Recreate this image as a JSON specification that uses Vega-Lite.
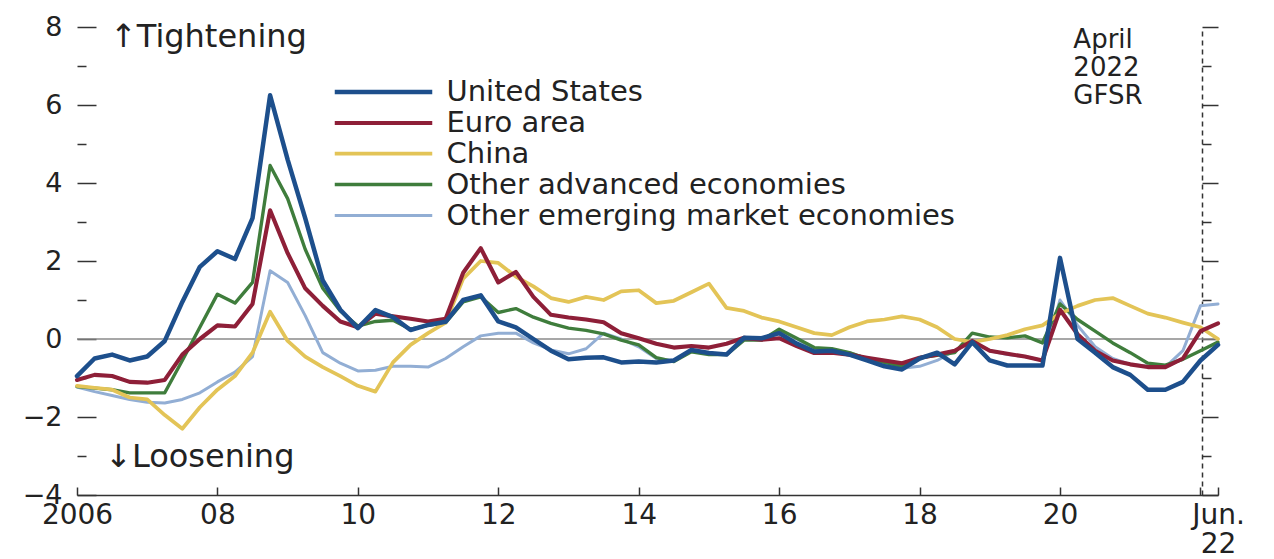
{
  "$schema": "https://vega.github.io/schema/vega-lite/v6.json",
  "width": 1141,
  "height": 468,
  "autosize": "none",
  "padding": {"left": 77, "top": 27, "right": 56, "bottom": 64},
  "background": "white",
  "config": {"view": {"stroke": null}, "font": "DejaVu Sans"},
  "resolve": {"axis": {"y": "independent"}},
  "layer": [
    {
      "data": {"values": [{"v": 0}]},
      "mark": {"type": "rule", "color": "#8a8a8a", "strokeWidth": 1.5},
      "encoding": {
        "y": {
          "field": "v", "type": "quantitative",
          "scale": {"domain": [-4, 8], "nice": false, "zero": false},
          "axis": {
            "orient": "right", "offset": -16, "values": [-4,-3,-2,-1,0,1,2,3,4,5,6,7,8],
            "labels": false, "title": null, "grid": false,
            "domain": true, "domainDash": [5, 4], "domainColor": "#333", "domainWidth": 1.5,
            "tickColor": "#333", "tickWidth": 1.5,
            "tickSize": {"condition": {"test": "datum.value % 2 !== 0", "value": 9}, "value": 16}
          }
        }
      }
    },
    {
      "data": {"values": [
        {"t": 2006.0, "United States": -0.95, "Euro area": -1.05, "China": -1.2, "Other advanced economies": -1.22, "Other emerging market economies": -1.23},
        {"t": 2006.25, "United States": -0.5, "Euro area": -0.92, "China": -1.25, "Other advanced economies": -1.26, "Other emerging market economies": -1.35},
        {"t": 2006.5, "United States": -0.4, "Euro area": -0.95, "China": -1.3, "Other advanced economies": -1.3, "Other emerging market economies": -1.45},
        {"t": 2006.75, "United States": -0.55, "Euro area": -1.1, "China": -1.5, "Other advanced economies": -1.38, "Other emerging market economies": -1.55},
        {"t": 2007.0, "United States": -0.45, "Euro area": -1.12, "China": -1.55, "Other advanced economies": -1.38, "Other emerging market economies": -1.62},
        {"t": 2007.25, "United States": -0.05, "Euro area": -1.05, "China": -1.95, "Other advanced economies": -1.38, "Other emerging market economies": -1.64},
        {"t": 2007.5, "United States": 0.95, "Euro area": -0.4, "China": -2.3, "Other advanced economies": -0.55, "Other emerging market economies": -1.55},
        {"t": 2007.75, "United States": 1.85, "Euro area": 0.0, "China": -1.75, "Other advanced economies": 0.3, "Other emerging market economies": -1.38},
        {"t": 2008.0, "United States": 2.25, "Euro area": 0.35, "China": -1.3, "Other advanced economies": 1.15, "Other emerging market economies": -1.1},
        {"t": 2008.25, "United States": 2.05, "Euro area": 0.32, "China": -0.95, "Other advanced economies": 0.92, "Other emerging market economies": -0.85},
        {"t": 2008.5, "United States": 3.1, "Euro area": 0.9, "China": -0.35, "Other advanced economies": 1.45, "Other emerging market economies": -0.45},
        {"t": 2008.75, "United States": 6.25, "Euro area": 3.3, "China": 0.7, "Other advanced economies": 4.45, "Other emerging market economies": 1.75},
        {"t": 2009.0, "United States": 4.6, "Euro area": 2.2, "China": -0.05, "Other advanced economies": 3.6, "Other emerging market economies": 1.45},
        {"t": 2009.25, "United States": 3.1, "Euro area": 1.3, "China": -0.45, "Other advanced economies": 2.3, "Other emerging market economies": 0.6},
        {"t": 2009.5, "United States": 1.5, "Euro area": 0.85, "China": -0.72, "Other advanced economies": 1.3, "Other emerging market economies": -0.35},
        {"t": 2009.75, "United States": 0.75, "Euro area": 0.45, "China": -0.95, "Other advanced economies": 0.72, "Other emerging market economies": -0.62},
        {"t": 2010.0, "United States": 0.28, "Euro area": 0.3, "China": -1.2, "Other advanced economies": 0.33, "Other emerging market economies": -0.82},
        {"t": 2010.25, "United States": 0.74, "Euro area": 0.65, "China": -1.35, "Other advanced economies": 0.45, "Other emerging market economies": -0.8},
        {"t": 2010.5, "United States": 0.56, "Euro area": 0.58, "China": -0.6, "Other advanced economies": 0.48, "Other emerging market economies": -0.7},
        {"t": 2010.75, "United States": 0.23, "Euro area": 0.52, "China": -0.15, "Other advanced economies": 0.25, "Other emerging market economies": -0.7},
        {"t": 2011.0, "United States": 0.36, "Euro area": 0.45, "China": 0.15, "Other advanced economies": 0.35, "Other emerging market economies": -0.72},
        {"t": 2011.25, "United States": 0.44, "Euro area": 0.52, "China": 0.42, "Other advanced economies": 0.42, "Other emerging market economies": -0.5},
        {"t": 2011.5, "United States": 1.0, "Euro area": 1.7, "China": 1.55, "Other advanced economies": 0.95, "Other emerging market economies": -0.2},
        {"t": 2011.75, "United States": 1.12, "Euro area": 2.33, "China": 2.0, "Other advanced economies": 1.08, "Other emerging market economies": 0.08},
        {"t": 2012.0, "United States": 0.45, "Euro area": 1.45, "China": 1.95, "Other advanced economies": 0.68, "Other emerging market economies": 0.15},
        {"t": 2012.25, "United States": 0.3, "Euro area": 1.72, "China": 1.6, "Other advanced economies": 0.78, "Other emerging market economies": 0.15},
        {"t": 2012.5, "United States": 0.0, "Euro area": 1.08, "China": 1.35, "Other advanced economies": 0.56, "Other emerging market economies": -0.1},
        {"t": 2012.75, "United States": -0.3, "Euro area": 0.62, "China": 1.05, "Other advanced economies": 0.4, "Other emerging market economies": -0.28},
        {"t": 2013.0, "United States": -0.52, "Euro area": 0.55, "China": 0.95, "Other advanced economies": 0.28, "Other emerging market economies": -0.38},
        {"t": 2013.25, "United States": -0.48, "Euro area": 0.5, "China": 1.08, "Other advanced economies": 0.22, "Other emerging market economies": -0.25},
        {"t": 2013.5, "United States": -0.47, "Euro area": 0.43, "China": 1.0, "Other advanced economies": 0.13, "Other emerging market economies": 0.15},
        {"t": 2013.75, "United States": -0.6, "Euro area": 0.15, "China": 1.22, "Other advanced economies": -0.03, "Other emerging market economies": 0.0},
        {"t": 2014.0, "United States": -0.58, "Euro area": 0.02, "China": 1.25, "Other advanced economies": -0.15, "Other emerging market economies": -0.2},
        {"t": 2014.25, "United States": -0.6, "Euro area": -0.12, "China": 0.92, "Other advanced economies": -0.48, "Other emerging market economies": -0.5},
        {"t": 2014.5, "United States": -0.55, "Euro area": -0.22, "China": 0.98, "Other advanced economies": -0.58, "Other emerging market economies": -0.55},
        {"t": 2014.75, "United States": -0.28, "Euro area": -0.18, "China": 1.2, "Other advanced economies": -0.33, "Other emerging market economies": -0.3},
        {"t": 2015.0, "United States": -0.36, "Euro area": -0.22, "China": 1.42, "Other advanced economies": -0.4, "Other emerging market economies": -0.38},
        {"t": 2015.25, "United States": -0.4, "Euro area": -0.12, "China": 0.8, "Other advanced economies": -0.4, "Other emerging market economies": -0.38},
        {"t": 2015.5, "United States": 0.03, "Euro area": 0.03, "China": 0.72, "Other advanced economies": -0.03, "Other emerging market economies": 0.0},
        {"t": 2015.75, "United States": 0.02, "Euro area": -0.02, "China": 0.55, "Other advanced economies": -0.03, "Other emerging market economies": -0.02},
        {"t": 2016.0, "United States": 0.15, "Euro area": 0.02, "China": 0.45, "Other advanced economies": 0.25, "Other emerging market economies": 0.2},
        {"t": 2016.25, "United States": -0.12, "Euro area": -0.18, "China": 0.3, "Other advanced economies": 0.02, "Other emerging market economies": 0.0},
        {"t": 2016.5, "United States": -0.32, "Euro area": -0.36, "China": 0.15, "Other advanced economies": -0.22, "Other emerging market economies": -0.25},
        {"t": 2016.75, "United States": -0.3, "Euro area": -0.35, "China": 0.1, "Other advanced economies": -0.25, "Other emerging market economies": -0.28},
        {"t": 2017.0, "United States": -0.4, "Euro area": -0.4, "China": 0.3, "Other advanced economies": -0.35, "Other emerging market economies": -0.35},
        {"t": 2017.25, "United States": -0.55, "Euro area": -0.48, "China": 0.45, "Other advanced economies": -0.5, "Other emerging market economies": -0.5},
        {"t": 2017.5, "United States": -0.7, "Euro area": -0.55, "China": 0.5, "Other advanced economies": -0.6, "Other emerging market economies": -0.62},
        {"t": 2017.75, "United States": -0.78, "Euro area": -0.62, "China": 0.58, "Other advanced economies": -0.7, "Other emerging market economies": -0.75},
        {"t": 2018.0, "United States": -0.5, "Euro area": -0.48, "China": 0.5, "Other advanced economies": -0.48, "Other emerging market economies": -0.7},
        {"t": 2018.25, "United States": -0.35, "Euro area": -0.4, "China": 0.3, "Other advanced economies": -0.42, "Other emerging market economies": -0.55},
        {"t": 2018.5, "United States": -0.65, "Euro area": -0.3, "China": 0.0, "Other advanced economies": -0.35, "Other emerging market economies": -0.3},
        {"t": 2018.75, "United States": -0.08, "Euro area": -0.05, "China": -0.08, "Other advanced economies": 0.15, "Other emerging market economies": -0.05},
        {"t": 2019.0, "United States": -0.55, "Euro area": -0.3, "China": 0.0, "Other advanced economies": 0.05, "Other emerging market economies": -0.3},
        {"t": 2019.25, "United States": -0.68, "Euro area": -0.38, "China": 0.1, "Other advanced economies": 0.03, "Other emerging market economies": -0.4},
        {"t": 2019.5, "United States": -0.68, "Euro area": -0.45, "China": 0.25, "Other advanced economies": 0.08, "Other emerging market economies": -0.45},
        {"t": 2019.75, "United States": -0.68, "Euro area": -0.55, "China": 0.35, "Other advanced economies": -0.1, "Other emerging market economies": -0.55},
        {"t": 2020.0, "United States": 2.08, "Euro area": 0.75, "China": 0.65, "Other advanced economies": 0.9, "Other emerging market economies": 1.0},
        {"t": 2020.25, "United States": 0.0, "Euro area": 0.12, "China": 0.85, "Other advanced economies": 0.5, "Other emerging market economies": 0.35},
        {"t": 2020.5, "United States": -0.35, "Euro area": -0.3, "China": 1.0, "Other advanced economies": 0.2, "Other emerging market economies": -0.2},
        {"t": 2020.75, "United States": -0.72, "Euro area": -0.55, "China": 1.05, "Other advanced economies": -0.1, "Other emerging market economies": -0.5},
        {"t": 2021.0, "United States": -0.92, "Euro area": -0.65, "China": 0.85, "Other advanced economies": -0.35, "Other emerging market economies": -0.65},
        {"t": 2021.25, "United States": -1.3, "Euro area": -0.72, "China": 0.65, "Other advanced economies": -0.62, "Other emerging market economies": -0.7},
        {"t": 2021.5, "United States": -1.3, "Euro area": -0.72, "China": 0.55, "Other advanced economies": -0.67, "Other emerging market economies": -0.72},
        {"t": 2021.75, "United States": -1.1, "Euro area": -0.5, "China": 0.42, "Other advanced economies": -0.52, "Other emerging market economies": -0.3},
        {"t": 2022.0, "United States": -0.55, "Euro area": 0.2, "China": 0.3, "Other advanced economies": -0.3, "Other emerging market economies": 0.85},
        {"t": 2022.25, "United States": -0.15, "Euro area": 0.4, "China": 0.0, "Other advanced economies": -0.08, "Other emerging market economies": 0.9}
      ]},
      "transform": [
        {"fold": ["Other emerging market economies", "Other advanced economies", "China", "Euro area", "United States"], "as": ["series", "value"]}
      ],
      "mark": {"type": "line", "strokeJoin": "round", "strokeCap": "round"},
      "encoding": {
        "x": {
          "field": "t", "type": "quantitative",
          "scale": {"domain": [2006, 2022.25], "nice": false, "zero": false},
          "axis": {
            "values": [2006, 2008, 2010, 2012, 2014, 2016, 2018, 2020, 2022, 2022.25],
            "labelExpr": "datum.value == 2006 ? '2006' : (datum.value > 2022.1 ? ['Jun.', '22'] : (datum.value == 2022 ? '' : slice(toString(datum.value), 2)))",
            "labelFlush": false, "labelFontSize": 28, "labelColor": "#222", "labelLineHeight": 29,
            "labelPadding": 14, "tickSize": -8, "tickColor": "#333", "tickWidth": 1.5,
            "domainColor": "#333", "domainWidth": 1.5, "grid": false, "title": null
          }
        },
        "y": {
          "field": "value", "type": "quantitative",
          "scale": {"domain": [-4, 8], "nice": false, "zero": false},
          "axis": {
            "orient": "left", "values": [-4,-3,-2,-1,0,1,2,3,4,5,6,7,8],
            "labelExpr": "datum.value % 2 === 0 ? datum.label : ''",
            "labelFontSize": 27, "labelColor": "#222", "labelPadding": 34,
            "tickSize": {"condition": {"test": "datum.value % 2 !== 0", "value": -9}, "value": -19},
            "tickColor": "#333", "tickWidth": 1.5,
            "domain": false, "grid": false, "title": null
          }
        },
        "color": {
          "field": "series", "type": "nominal",
          "scale": {
            "domain": ["United States", "Euro area", "China", "Other advanced economies", "Other emerging market economies"],
            "range": ["#1d4f8c", "#8e1f38", "#e3c457", "#3f7d3c", "#92aed4"]
          },
          "legend": {
            "orient": "none", "legendX": 258, "legendY": 50, "title": null,
            "symbolType": "M-3.9,0H3.9", "symbolSize": 625, "symbolStrokeWidth": 3,
            "symbolOffset": 33.5, "labelOffset": 48, "labelFontSize": 29, "labelColor": "#222",
            "rowPadding": 1, "labelLimit": 0
          }
        },
        "strokeWidth": {
          "field": "series", "type": "nominal",
          "scale": {
            "domain": ["United States", "Euro area", "China", "Other advanced economies", "Other emerging market economies"],
            "range": [4.5, 3, 2.5, 2.5, 2.5]
          },
          "legend": null
        }
      }
    },
    {
      "data": {"values": [
        {"t": 2006.47, "v": 7.74, "label": "↑Tightening"},
        {"t": 2006.4, "v": -3.03, "label": "↓Loosening"}
      ]},
      "mark": {"type": "text", "align": "left", "baseline": "middle", "fontSize": 32, "color": "#222"},
      "encoding": {
        "x": {"field": "t", "type": "quantitative"},
        "y": {"field": "v", "type": "quantitative", "axis": null},
        "text": {"field": "label"}
      }
    },
    {
      "data": {"values": [
        {"t": 2020.19, "v": 8.0, "label": "April\n2022\nGFSR"}
      ]},
      "mark": {"type": "text", "align": "left", "baseline": "top", "fontSize": 26, "lineHeight": 28, "lineBreak": "\n", "color": "#222"},
      "encoding": {
        "x": {"field": "t", "type": "quantitative"},
        "y": {"field": "v", "type": "quantitative", "axis": null},
        "text": {"field": "label"}
      }
    }
  ]
}
